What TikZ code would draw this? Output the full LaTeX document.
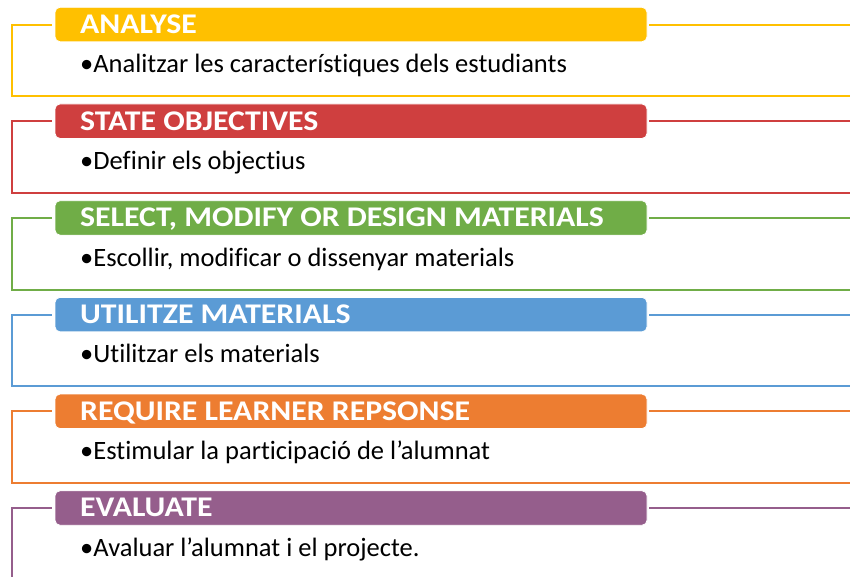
\documentclass[tikz,border=0pt]{standalone}
\usepackage{fontspec}
\setmainfont[Ligatures=NoCommon]{Carlito}
\newfontfamily\hdrfamily[FakeStretch=1.115, Ligatures=NoCommon]{Carlito}
\usepackage{tikz}
\usetikzlibrary{positioning}
\definecolor{analyse}{HTML}{FFC000}
\definecolor{objectives}{HTML}{CF3F3F}
\definecolor{materials}{HTML}{70AD47}
\definecolor{utilize}{HTML}{5B9BD5}
\definecolor{response}{HTML}{ED7D31}
\definecolor{evaluate}{HTML}{955E8C}
\newcommand{\hdrfont}{\hdrfamily\fontsize{28.5}{30}\selectfont\bfseries}
\newcommand{\itemfont}{\fontsize{26.5}{30}\selectfont}

\begin{document}
\begin{tikzpicture}[x=1pt,y=-1pt,
        hdrbar/.style={rounded corners=5pt, draw=white, line width=0.8pt,
            minimum width=592pt, minimum height=34.5pt, inner sep=0pt},
        hdrtext/.style={anchor=base west, text=white, font=\hdrfont, inner sep=0pt},
        itemtext/.style={anchor=base west, font=\itemfont, inner sep=0pt},
        frame/.style={line width=2pt}]
    \useasboundingbox (0,0) rectangle (850,576);
    \foreach \i/\clr/\hd/\itm in {
            0/analyse/ANALYSE/{•Analitzar les característiques dels estudiants},
            1/objectives/STATE OBJECTIVES/{•Definir els objectius},
            2/materials/{SELECT, MODIFY OR DESIGN MATERIALS}/{•Escollir, modificar o dissenyar materials},
            3/utilize/UTILITZE MATERIALS/{•Utilitzar els materials},
            4/response/REQUIRE LEARNER REPSONSE/{•Estimular la participació de l’alumnat},
            5/evaluate/EVALUATE/{•Avaluar l’alumnat i el projecte.}}{
        \pgfmathsetmacro{\dy}{96.7*\i}
        \node[hdrbar, fill=\clr] (bar\i) at (351,24.5+\dy) {};
        \node[hdrtext] (head\i) at (80,33.3+\dy) {\hd};
        \node[itemtext] (item\i) at (80,72.7+\dy) {\itm};
        \coordinate (bl\i) at (12,96.3+\dy);
        \coordinate (br\i) at (850,96.3+\dy);
        % frame round each step
        \draw[frame, draw=\clr] ([xshift=-3pt]bar\i.west) -| (bl\i) -- (br\i);
        \draw[frame, draw=\clr] ([xshift=2pt]bar\i.east) -- (bar\i.east -| br\i);
    }
\end{tikzpicture}
\end{document}
